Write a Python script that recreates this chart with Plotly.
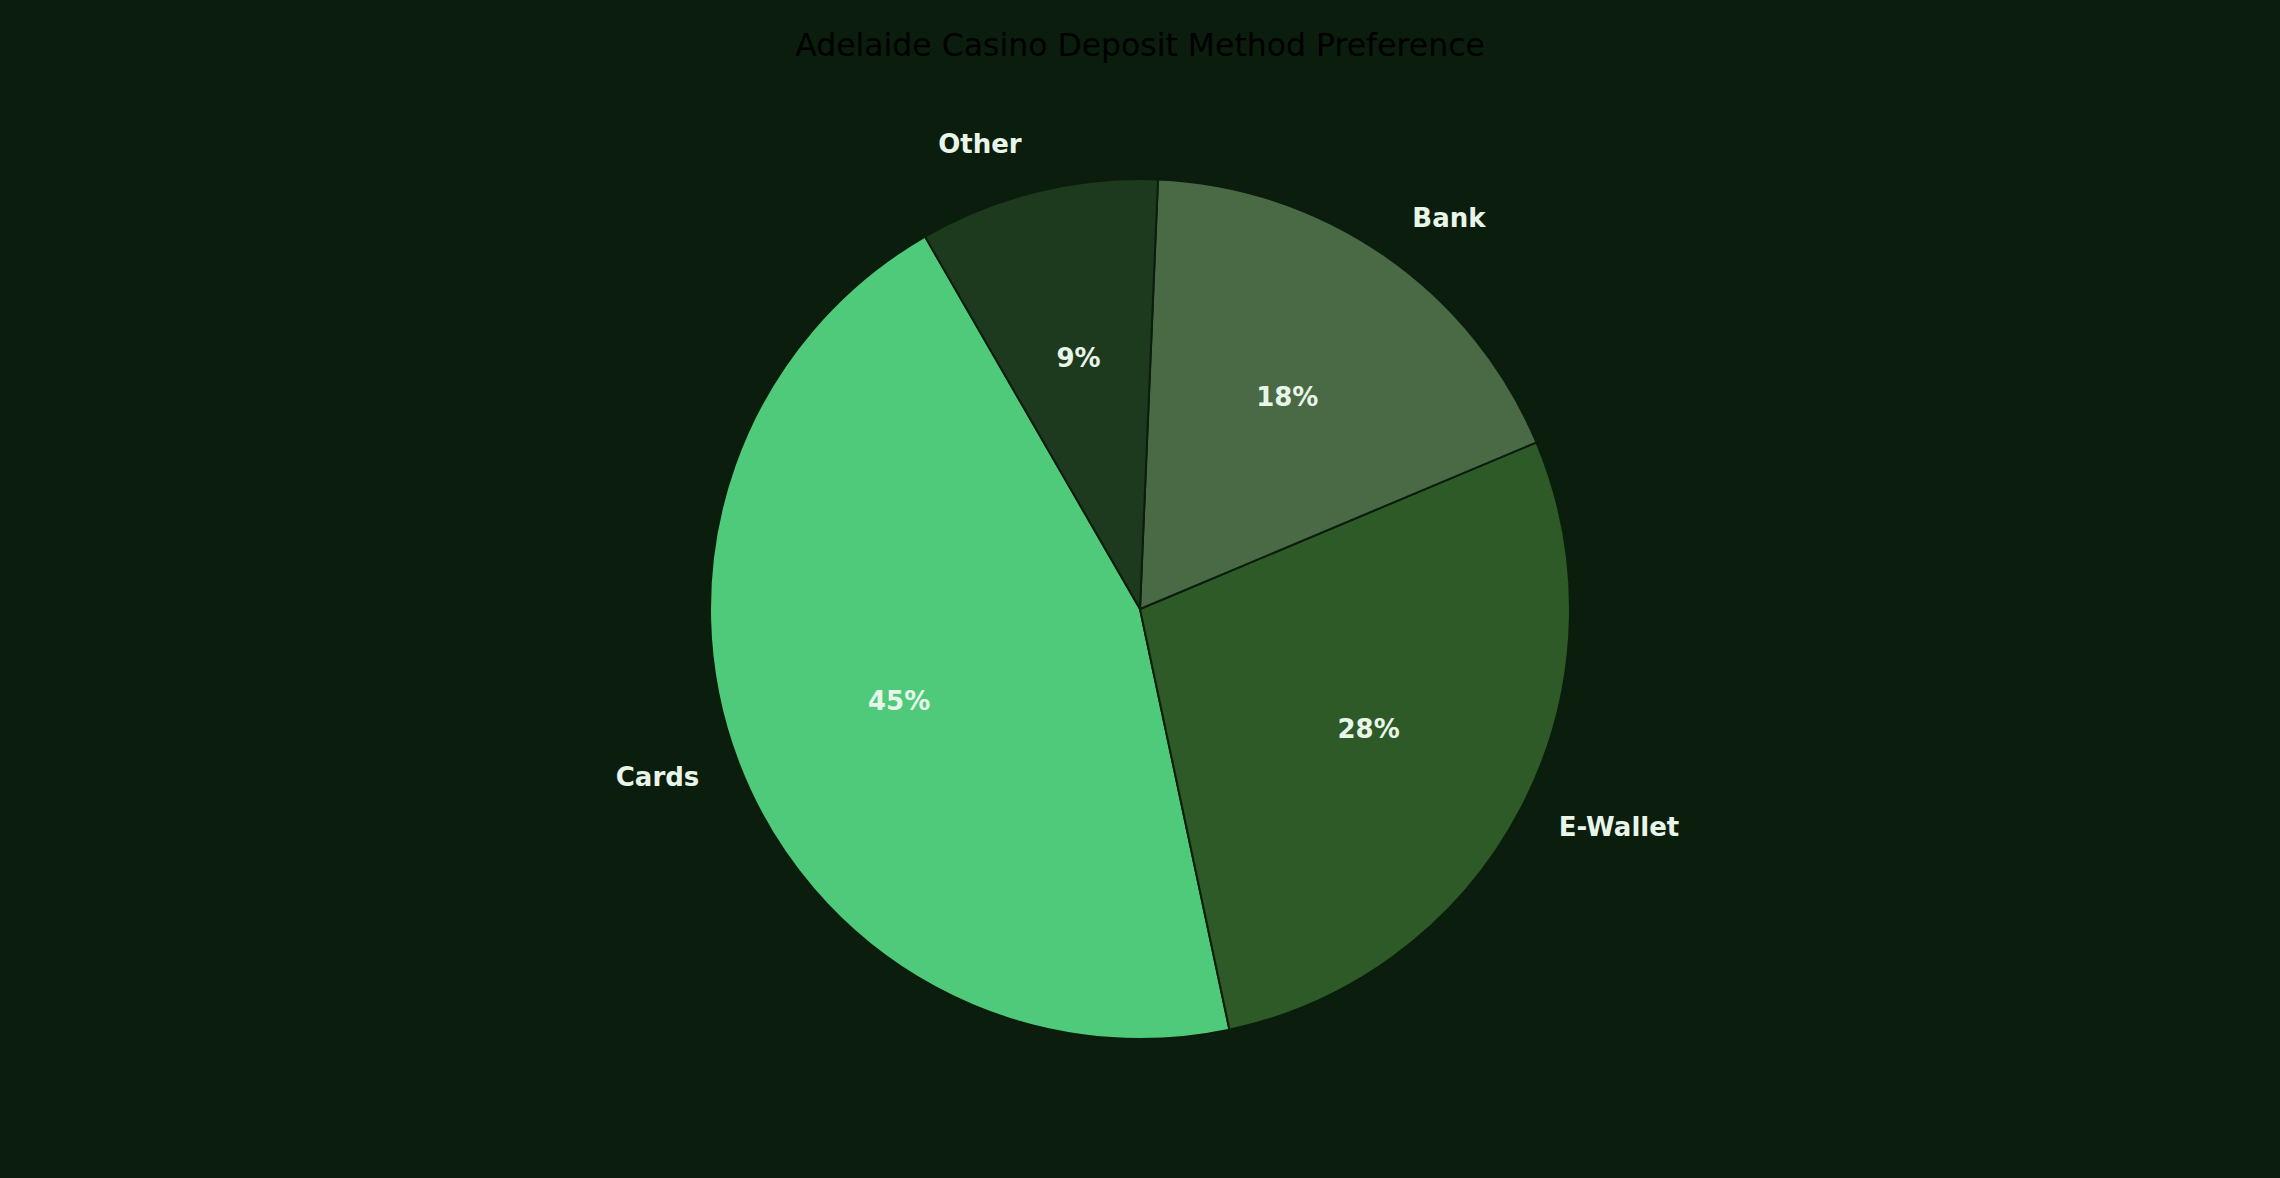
import plotly.graph_objects as go

# Deposit method shares (percent)
methods = ['Cards', 'E-Wallet', 'Bank', 'Other']
shares = [45, 28, 18, 9]
slice_colors = ['#4fca7b', '#2d5a27', '#4a6a45', '#1e3a1e']

bg = '#0b1d0d'
text_col = '#e8f5e9'
W, H = 2280, 1178
cx, cy, r = 1140, 569, 430  # pie centre (from bottom) and radius in px


def dom(rad):
    return dict(x=[(cx - rad) / W, (cx + rad) / W], y=[(cy - rad) / H, (cy + rad) / H])


common = dict(labels=methods, values=shares, sort=False,
              direction='counterclockwise', rotation=-192,
              showlegend=False, hoverinfo='skip')

fig = go.Figure()

# Coloured slices
fig.add_trace(go.Pie(
    **common,
    marker=dict(colors=slice_colors, line=dict(color=bg, width=2)),
    textinfo='none',
    domain=dom(r),
))

# Transparent ring so the percentages sit at ~0.6 of the radius
fig.add_trace(go.Pie(
    **common,
    hole=0.6,
    marker=dict(colors=['rgba(0,0,0,0)'] * len(methods), line=dict(width=0)),
    texttemplate='%{percent:.0%}',
    textposition='inside',
    insidetextorientation='horizontal',
    insidetextfont=dict(family='DejaVu Sans', size=26, color=text_col, weight='bold'),
    domain=dom(0.75 * r),
))

# Transparent pie just for the outside category labels
fig.add_trace(go.Pie(
    **common,
    marker=dict(colors=['rgba(0,0,0,0)'] * len(methods), line=dict(width=0)),
    textinfo='label',
    textposition='outside',
    outsidetextfont=dict(family='DejaVu Sans', size=26, color=text_col, weight='bold'),
    domain=dom(464),
))

fig.update_layout(
    title=dict(
        text='Adelaide Casino Deposit Method Preference',
        x=0.5, xanchor='center',
        y=1 - 45 / H, yanchor='middle', yref='container',
        font=dict(family='DejaVu Sans', size=31.5, color='#000000'),
    ),
    paper_bgcolor=bg,
    plot_bgcolor=bg,
    margin=dict(l=0, r=0, t=0, b=0),
    width=W,
    height=H,
)

fig.write_html(
    "out.html",
    config=dict(displayModeBar=False),
    post_script="document.body.style.margin='0';document.body.style.background='#0b1d0d';",
)
